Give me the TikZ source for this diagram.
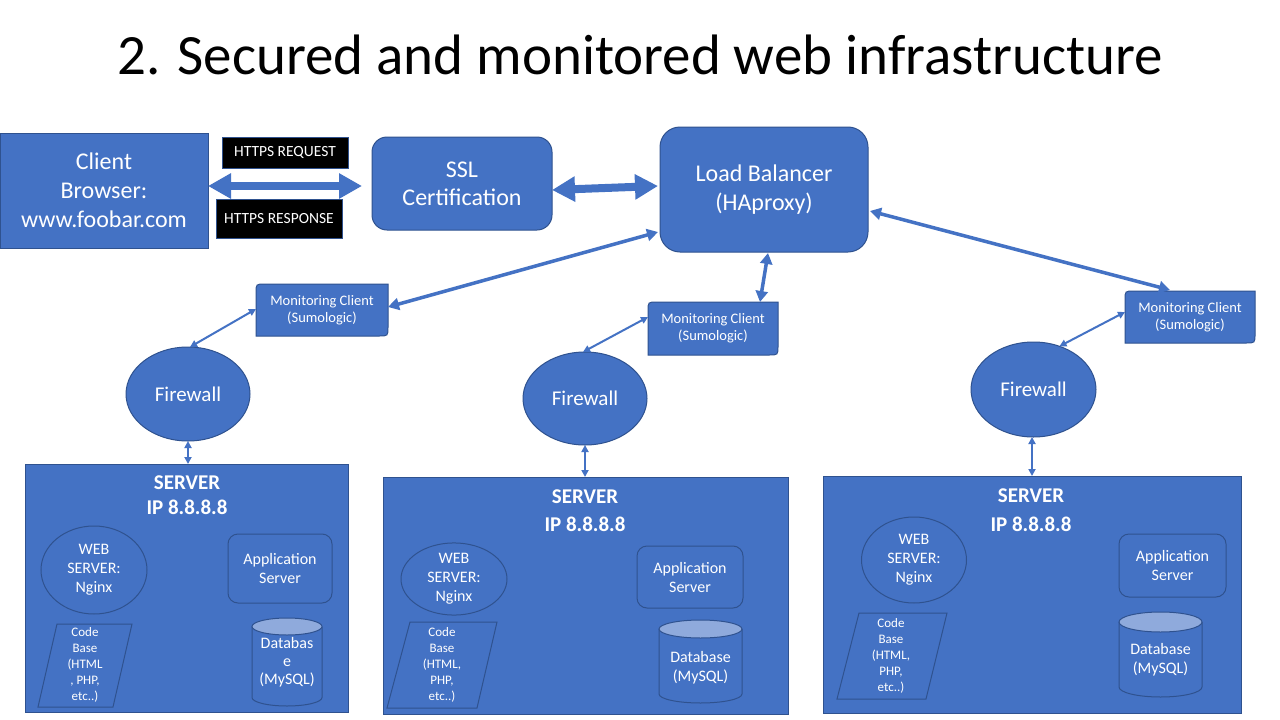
\documentclass[tikz,border=0pt]{standalone}
\usepackage{fontspec}
\setmainfont{Carlito}
\usetikzlibrary{arrows.meta,shapes.geometric,calc,backgrounds}
\definecolor{blu}{HTML}{4472C4}
\definecolor{bord}{HTML}{2F528F}
\definecolor{dbtop}{HTML}{8FAADC}
\newcommand\fs[2]{\fontsize{#1pt}{#2pt}\selectfont}
\tikzset{
  bx/.style={draw=bord, fill=blu, text=white, line width=1pt, inner sep=0pt, outer sep=0pt, align=center, minimum width=#1},
  rbx/.style={bx=#1, rounded corners=12pt},
  lbl/.style={draw=bord, fill=black, text=white, line width=1pt, inner sep=0pt, align=center, font=\fs{15.5}{18}},
  fw/.style={ellipse, draw=bord, fill=blu, text=white, line width=1pt, inner sep=0pt, outer sep=0pt, font=\fs{21}{25}},
  web/.style={ellipse, draw=bord, line width=1pt, text=white, inner sep=0pt, outer sep=0pt, align=center, font=\fs{16}{19}},
  mc/.style={text=white, inner sep=0pt, outer sep=0pt, align=center, font=\fs{14.5}{17}},
  mcline/.style={draw=bord, fill=blu, line width=1pt},
  txt/.style={text=white, inner sep=0pt, align=center},
  fatarrow/.style={draw=blu, line width=8pt, {Triangle[length=23pt,width=24pt]}-{Triangle[length=23pt,width=24pt]}},
  medarrow/.style={draw=blu, line width=3.5pt, {Triangle[length=11pt,width=12pt]}-{Triangle[length=11pt,width=12pt]}},
  thinarrow/.style={draw=blu, line width=2pt, {Triangle[length=7pt,width=7pt]}-{Triangle[length=7pt,width=7pt]}},
  part/.style={draw=bord, line width=1pt},
}
\newcommand\mcshape[1]{\draw[mcline] (#1.south west) -- ($(#1.north west)+(0,9)$) .. controls (#1.north west) .. ($(#1.north west)+(9,0)$) -- (#1.north east) -- ($(#1.south east)+(0,-9)$) .. controls (#1.south east) .. ($(#1.south east)+(-9,0)$) -- cycle;}
\newcommand\dbshape[5]{% cx, rx, yt, yb, ry
  \draw[part, fill=blu] ({#1-#2},#3) -- ({#1-#2},#4) arc[start angle=180, end angle=0, x radius=#2, y radius=#5] -- ({#1+#2},#3);
  \draw[part, fill=dbtop] (#1,#3) ellipse[x radius=#2, y radius=#5];}
\begin{document}
\begin{tikzpicture}[x=1pt,y=-1pt]
\useasboundingbox (0,0) rectangle (1280,720);

% title
\node[inner sep=0pt, font=\fs{57}{68}] (title) at (640,55) {2. Secured and monitored web infrastructure};

% top row
\node[bx=208pt, minimum height=115pt, font=\fs{24}{29}] (client) at (104,190.5) {Client\\Browser:\\www.foobar.com};
\node[lbl, minimum width=126pt, minimum height=31pt] (req) at (285,152.5) {HTTPS REQUEST};
\node[lbl, minimum width=126pt, minimum height=39pt] (resp) at (279,218.5) {HTTPS RESPONSE};
\node[rbx=180pt, minimum height=93pt, rounded corners=15pt, font=\fs{24}{28}] (ssl) at (462,183.5) {SSL\\Certification};
\node[rbx=208pt, minimum height=125pt, rounded corners=20pt, font=\fs{24}{29}] (lb) at (764,189.5) {Load Balancer\\(HAproxy)};

\draw[fatarrow] ([yshift=4.5pt]client.east) -- ([xshift=-10pt,yshift=-2.5pt]ssl.west);
\draw[fatarrow] ([yshift=-6.5pt]ssl.east) -- ([xshift=-2pt,yshift=3.5pt]lb.west);

% monitoring clients
\node[mc, minimum width=132pt, minimum height=52pt] (mc1) at (322,310) {Monitoring Client\\(Sumologic)};
\node[mc, minimum width=130pt, minimum height=53pt] (mc2) at (713,328.5) {Monitoring Client\\(Sumologic)};
\node[mc, minimum width=130pt, minimum height=52pt] (mc3) at (1190,317) {Monitoring Client\\(Sumologic)};
\begin{pgfonlayer}{background}
\fill[white] (0,0) rectangle (1280,720);
\mcshape{mc1}\mcshape{mc2}\mcshape{mc3}
\end{pgfonlayer}

\draw[medarrow] ([xshift=-2pt,yshift=-42.5pt]lb.west) -- ([yshift=3pt]mc1.east);
\draw[medarrow] ([xshift=4pt,yshift=-1pt]lb.south) -- ([xshift=47pt]mc2.north);
\draw[medarrow] ([xshift=2pt,yshift=-21.5pt]lb.east) -- ([xshift=-20pt,yshift=1pt]mc3.north);

% firewalls
\node[fw, minimum width=124pt, minimum height=94pt] (fw1) at (188,394) {Firewall};
\node[fw, minimum width=124pt, minimum height=93pt] (fw2) at (585,398.5) {Firewall};
\node[fw, minimum width=125pt, minimum height=95pt] (fw3) at (1033.5,389.5) {Firewall};

\draw[thinarrow] ([yshift=1pt]mc1.west) -- ([xshift=2pt]fw1.north);
\draw[thinarrow] ([yshift=11.5pt]mc2.west) -- ([xshift=-2pt]fw2.north);
\draw[thinarrow] ([yshift=5pt]mc3.west) -- (fw3.59);

% servers
\node[bx=323pt, minimum height=248pt] (s1) at (186.5,588) {};
\node[bx=405pt, minimum height=237pt] (s2) at (585.5,595.5) {};
\node[bx=418pt, minimum height=237pt] (s3) at (1032,594.5) {};

\draw[thinarrow] (fw1.south) -- (fw1.south |- s1.north);
\draw[thinarrow] (fw2.south) -- (fw2.south |- s2.north);
\draw[thinarrow] ([xshift=-1.5pt]fw3.south) -- ([xshift=-1.5pt]fw3.south |- s3.north);

\node[txt, font=\bfseries\fs{21}{25}] (s1t) at (187,495.5) {SERVER\\IP 8.8.8.8};
\node[txt, font=\bfseries\fs{21}{28}] (s2t) at (585,511) {SERVER\\IP 8.8.8.8};
\node[txt, font=\bfseries\fs{21}{29}] (s3t) at (1031,510.5) {SERVER\\IP 8.8.8.8};

% web servers
\node[web, minimum width=106pt, minimum height=88pt] (w1) at (94,570) {WEB\\SERVER:\\Nginx};
\node[web, minimum width=106pt, minimum height=72pt] (w2) at (454,579) {WEB\\SERVER:\\Nginx};
\node[web, minimum width=105pt, minimum height=86pt] (w3) at (914,560) {WEB\\SERVER:\\Nginx};

% application servers
\node[rbx=104pt, minimum height=69pt, rounded corners=10pt, fill=none, font=\fs{16}{19}] (a1) at (280,568.5) {Application\\Server};
\node[rbx=106pt, minimum height=62pt, rounded corners=10pt, fill=none, font=\fs{16}{19}] (a2) at (690,577) {Application\\Server};
\node[rbx=107pt, minimum height=63pt, rounded corners=10pt, fill=none, font=\fs{16}{19}] (a3) at (1172.5,565.5) {Application\\Server};

% code bases
\draw[part] (57,624) -- (132,624) -- (113,707) -- (38,707) -- cycle;
\node[txt, font=\fs{13}{16}] (c1) at (85,665) {Code\\Base\\(HTML\\, PHP,\\etc..)};
\draw[part] (410,622) -- (497,622) -- (477,708) -- (387,708) -- cycle;
\node[txt, font=\fs{13}{16}] (c2) at (442,665) {Code\\Base\\(HTML,\\PHP,\\etc..)};
\draw[part] (859,613) -- (947,613) -- (926,699) -- (837,699) -- cycle;
\node[txt, font=\fs{13}{16}] (c3) at (891,656) {Code\\Base\\(HTML,\\PHP,\\etc..)};

% databases
\dbshape{287}{35}{626.5}{697.5}{8.5}
\node[txt, font=\fs{16}{18}] (d1) at (287,662) {Databas\\e\\(MySQL)};
\dbshape{700.5}{41.5}{629}{694}{9}
\node[txt, font=\fs{16}{19}] (d2) at (700.5,667.5) {Database\\(MySQL)};
\dbshape{1160.5}{41.5}{622}{687}{10}
\node[txt, font=\fs{16}{19}] (d3) at (1160.5,660) {Database\\(MySQL)};
\end{tikzpicture}
\end{document}
